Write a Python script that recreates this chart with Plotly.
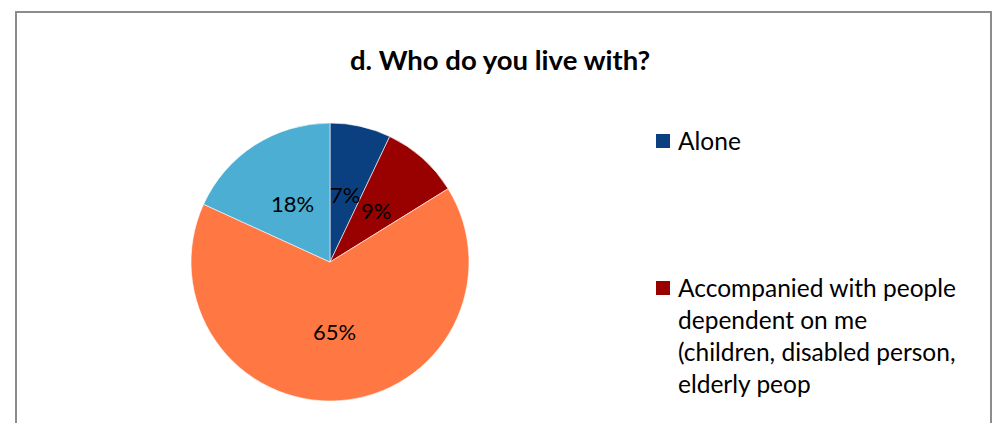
import math
import plotly.graph_objects as go

# Household composition shares (percent)
categories = [
    "Alone",
    "Accompanied with people dependent on me (children, disabled person, elderly peop",
    "Accompanied with people not dependent on me",
    "Other",
]
shares = [7, 9, 65, 18]
colors = ["#0B4080", "#990000", "#FF7843", "#4BAED2"]
legend_lines = [
    ["Alone"],
    ["Accompanied with people", "dependent on me", "(children, disabled person,", "elderly peop"],
]

W, H = 993, 423
FONT = "Lato"


def px(x):
    return x / W


def py(y):
    return 1 - y / H


# Pie placement in pixels
cx, cy, r = 330, 262, 139
dom_x = [px(cx - r), px(cx + r)]
dom_y = [py(cy + r), py(cy - r)]

fig = go.Figure(
    go.Pie(
        labels=categories,
        values=shares,
        sort=False,
        direction="clockwise",
        rotation=0,
        marker=dict(colors=colors, line=dict(color="white", width=0.6)),
        textinfo="none",
        hoverinfo="label+percent",
        domain=dict(x=dom_x, y=dom_y),
        showlegend=False,
    )
)

annotations = []
shapes = []

# Percentage labels placed halfway along each slice's bisector
total = sum(shares)
start = 0.0
for v in shares:
    frac = v / total
    mid = (start + frac / 2) * 2 * math.pi
    lx = cx + 0.5 * r * math.sin(mid)
    ly = cy - 0.5 * r * math.cos(mid)
    annotations.append(dict(
        x=px(lx), y=py(ly), xref="paper", yref="paper",
        text=f"{v}%", showarrow=False, xanchor="center", yanchor="middle",
        font=dict(family=FONT, size=22, color="black"),
    ))
    start += frac

# Title
annotations.append(dict(
    x=px(500), y=py(60), xref="paper", yref="paper",
    text="<b>d. Who do you live with?</b>", showarrow=False,
    xanchor="center", yanchor="middle",
    font=dict(family=FONT, size=27.5, color="black"),
))

# Legend (first two entries visible)
legend_tops = [134, 281]
for i, lines in enumerate(legend_lines):
    top = legend_tops[i]
    shapes.append(dict(
        type="rect", xref="paper", yref="paper",
        x0=px(656), x1=px(670), y0=py(top), y1=py(top + 14),
        fillcolor=colors[i], line=dict(width=0),
    ))
    annotations.append(dict(
        x=px(676), y=py(top - 10), xref="paper", yref="paper",
        text="<br>".join(lines), showarrow=False, xanchor="left", yanchor="top",
        align="left", font=dict(family=FONT, size=24.5, color="black"),
    ))

# Chart frame
shapes.append(dict(
    type="rect", xref="paper", yref="paper",
    x0=px(16), x1=px(991), y0=-0.2, y1=py(12),
    line=dict(color="#8C8C8C", width=2), fillcolor="rgba(0,0,0,0)",
))

fig.update_layout(
    width=W, height=H,
    margin=dict(l=0, r=0, t=0, b=0),
    paper_bgcolor="white",
    plot_bgcolor="white",
    annotations=annotations,
    shapes=shapes,
)

fig.write_html("out.html", config={"displayModeBar": False})
